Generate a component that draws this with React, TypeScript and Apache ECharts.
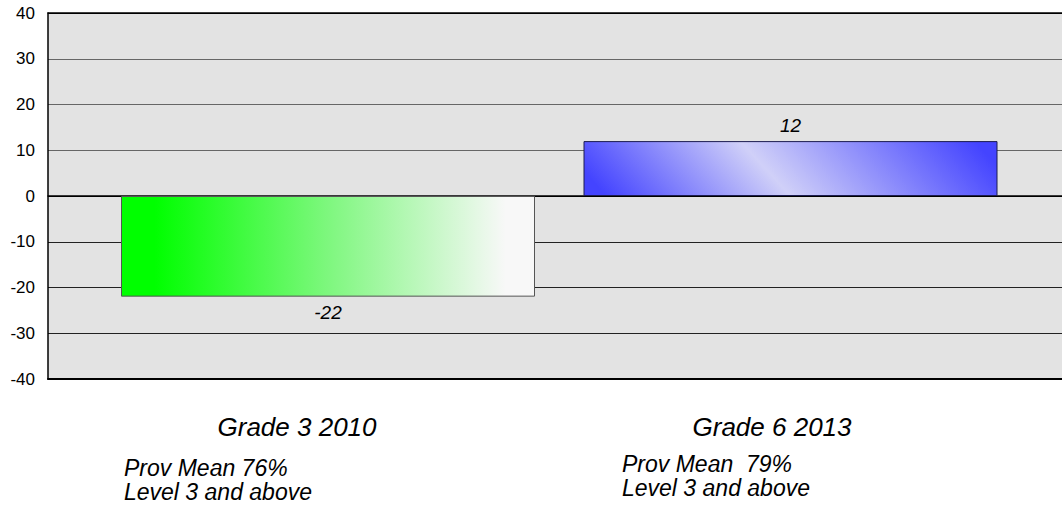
import React, { useEffect, useRef } from "react";
import * as echarts from "echarts";

const categories = ["Grade 3 2010", "Grade 6 2013"];
const values = [-22, 12];
const noteLine1 = ["Prov Mean 76%", "Prov Mean  79%"];
const noteLine2 = ["Level 3 and above", "Level 3 and above"];
const yMin = -40;
const yMax = 40;
const yInterval = 10;

const FONT = "'Liberation Sans', Arial, sans-serif";

export default function App() {
  const ref = useRef<HTMLDivElement>(null);
  useEffect(() => {
    if (!ref.current) return;
    const chart = echarts.init(ref.current, undefined, { renderer: "svg" });

    const greenFill = new echarts.graphic.LinearGradient(0, 0, 1, 0, [
      { offset: 0, color: "#00ff00" },
      { offset: 0.08, color: "#00ff00" },
      { offset: 0.5, color: "#7ef77e" },
      { offset: 0.93, color: "#f8f8f8" },
      { offset: 1, color: "#f8f8f8" },
    ]);
    const blueFill = new echarts.graphic.LinearGradient(0, 0.56, 1, 0.44, [
      { offset: 0, color: "#4444ff" },
      { offset: 0.44, color: "#d0d0f8" },
      { offset: 1, color: "#4444ff" },
    ]);
    const fills = [greenFill, blueFill];
    const borders = ["#555555", "#1c1c50"];

    const barData = values.map((v, i) => ({
      value: v,
      itemStyle: { color: fills[i], borderColor: borders[i], borderWidth: 1 },
      label: { position: v < 0 ? "bottom" : "top" },
    }));

    const labelCenters = [297, 772];
    const noteLefts = [124, 622];
    const noteY1 = [468, 464];
    const noteY2 = [492, 488];

    const graphics: any[] = [];
    categories.forEach((c, i) => {
      graphics.push({
        type: "text",
        x: labelCenters[i],
        y: 427,
        style: {
          text: c,
          align: "center",
          verticalAlign: "middle",
          font: `italic 26px ${FONT}`,
          fill: "#000",
        },
      });
      graphics.push({
        type: "text",
        x: noteLefts[i],
        y: noteY1[i],
        style: {
          text: noteLine1[i],
          align: "left",
          verticalAlign: "middle",
          font: `italic 23px ${FONT}`,
          fill: "#000",
        },
      });
      graphics.push({
        type: "text",
        x: noteLefts[i],
        y: noteY2[i],
        style: {
          text: noteLine2[i],
          align: "left",
          verticalAlign: "middle",
          font: `italic 23px ${FONT}`,
          fill: "#000",
        },
      });
    });

    chart.setOption({
      animation: false,
      grid: [
        {
          left: 48,
          right: 0,
          top: 13,
          bottom: 132,
          show: true,
          backgroundColor: "#e3e3e3",
          borderWidth: 0,
          containLabel: false,
          outerBoundsMode: "none",
        },
        {
          left: 96.75,
          width: 925,
          top: 13,
          bottom: 132,
          containLabel: false,
          outerBoundsMode: "none",
        },
      ],
      xAxis: [
        {
          gridIndex: 0,
          type: "category",
          data: categories,
          axisLine: { onZero: true, lineStyle: { color: "#000", width: 1.5 } },
          axisTick: { show: false },
          axisLabel: { show: false },
          splitLine: { show: false },
        },
        {
          gridIndex: 1,
          type: "category",
          data: categories,
          show: false,
        },
        {
          gridIndex: 0,
          type: "category",
          data: categories,
          position: "top",
          axisLine: { onZero: false, lineStyle: { color: "#000", width: 1.5 } },
          axisTick: { show: false },
          axisLabel: { show: false },
          splitLine: { show: false },
        },
        {
          gridIndex: 0,
          type: "category",
          data: categories,
          position: "bottom",
          axisLine: { onZero: false, lineStyle: { color: "#000", width: 2 } },
          axisTick: { show: false },
          axisLabel: { show: false },
          splitLine: { show: false },
        },
      ],
      yAxis: [
        {
          gridIndex: 0,
          type: "value",
          min: yMin,
          max: yMax,
          interval: yInterval,
          axisLine: { show: true, lineStyle: { color: "#000", width: 1.5 } },
          axisTick: { show: false },
          axisLabel: {
            color: "#000",
            fontFamily: FONT,
            fontSize: 17,
            margin: 13,
          },
          splitLine: {
            show: true,
            lineStyle: {
              color: ["#333", "#222", "#222", "#222", "#000", "#666", "#666", "#666", "#000"],
              width: 1,
            },
          },
        },
        {
          gridIndex: 1,
          type: "value",
          min: yMin,
          max: yMax,
          interval: yInterval,
          show: false,
          splitLine: { show: false },
        },
      ],
      series: [
        {
          type: "bar",
          xAxisIndex: 1,
          yAxisIndex: 1,
          data: barData,
          barWidth: 414,
          label: {
            show: true,
            distance: 6,
            color: "#000",
            fontFamily: FONT,
            fontStyle: "italic",
            fontSize: 19,
          },
        },
      ],
      graphic: graphics,
    });

    return () => chart.dispose();
  }, []);

  return (
    <div
      ref={ref}
      style={{ position: "fixed", left: 0, top: 0, width: 1062, height: 511, background: "#fff" }}
    />
  );
}
